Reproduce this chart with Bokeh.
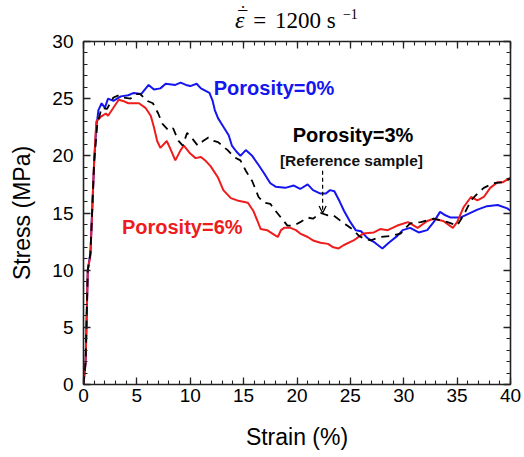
from bokeh.plotting import figure
from bokeh.layouts import column
from bokeh.models import (Label, Arrow, OpenHead, LinearAxis, SingleIntervalTicker,
                          Range1d, CustomLabelingPolicy)
from bokeh.embed import file_html
from bokeh.resources import INLINE

# ---------------- data ----------------
strain_p0 = [0, 0.2, 0.4, 0.65, 1.0, 1.2, 1.4, 1.7, 2.0, 2.3, 2.8, 3.5, 4.2, 4.7, 5.4,
             6.1, 6.6, 7.2, 7.7, 8.6, 9.1, 9.6, 10.0, 10.6, 11.0, 11.4, 11.8, 12.1, 12.3,
             12.6, 13.0, 13.6, 13.9, 14.3, 14.7, 15.2, 15.8, 16.4, 16.9, 17.5, 18.0, 18.9,
             19.7, 20.3, 21.0, 21.5, 22.2, 22.7, 23.1, 23.5, 24.0, 24.4, 25.0, 25.5, 26.0,
             26.6, 27.3, 28.0, 28.6, 29.4, 29.9, 30.6, 31.4, 32.2, 32.8, 33.4, 33.9, 34.4,
             35.3, 36.0, 36.9, 37.8, 38.8, 39.7, 40.0]
stress_p0 = [0, 2, 10, 11.5, 19.5, 22.5, 24, 24.6, 24.2, 25.0, 24.8, 25.2, 25.3, 25.5, 25.4,
             26.2, 25.8, 25.9, 26.3, 26.2, 26.4, 26.2, 26.1, 26.3, 25.9, 25.7, 25.5, 24.8, 24.0,
             23.3, 22.7, 21.8, 20.9, 20.4, 20.0, 20.5, 20.0, 19.2, 18.5, 17.6, 17.3, 17.2,
             17.4, 17.1, 17.5, 17.0, 16.7, 16.7, 17.0, 16.9, 16.0, 15.2, 14.2, 13.5, 13.4,
             12.8, 12.4, 11.9, 12.4, 13.0, 13.5, 13.7, 13.3, 13.5, 14.2, 15.1, 14.8, 14.6,
             14.6, 14.9, 15.3, 15.6, 15.7, 15.4, 15.2]

strain_p3 = [0, 0.2, 0.4, 0.65, 1.0, 1.3, 1.7, 2.2, 2.8, 3.3, 3.7, 4.4, 4.9, 5.3, 6.0,
             6.5, 7.0, 7.4, 8.0, 8.4, 8.9, 9.3, 9.7, 10.2, 10.7, 11.2, 11.7, 12.2, 12.6,
             13.5, 14.1, 14.7, 15.2, 15.8, 16.1, 16.4, 16.9, 17.5, 17.8, 18.5, 19.1, 19.7,
             20.3, 21.0, 21.5, 22.2, 22.9, 23.4, 24.1, 24.7, 25.3, 25.8, 26.2, 26.9, 27.8,
             28.8, 29.7, 30.6, 31.6, 32.8, 34.1, 35.0, 35.6, 36.3, 36.9, 37.5, 38.4, 39.3, 40.0]
stress_p3 = [0, 2, 10, 11.5, 19.5, 22.8, 24.2, 24.1, 25.1, 25.3, 25.1, 25.0, 25.4, 25.4, 24.8,
             24.6, 23.7, 22.8, 22.2, 22.4, 21.3, 20.9, 22.0, 21.5, 20.9, 21.3, 21.6, 21.3, 21.2,
             20.5, 19.9, 19.6, 18.7, 17.8, 17.1, 16.4, 15.9, 15.8, 15.4, 14.6, 13.9, 13.9,
             14.2, 14.6, 14.5, 15.0, 14.8, 14.8, 14.3, 13.9, 13.5, 13.0, 12.8, 12.6, 12.9,
             13.0, 13.2, 14.1, 14.2, 14.5, 14.2, 13.9, 14.8, 16.1, 16.7, 17.2, 17.6, 17.7, 18.0]

strain_p6 = [0, 0.2, 0.4, 0.65, 1.0, 1.2, 1.6, 2.1, 2.3, 2.8, 3.3, 3.7, 4.2, 5.2, 5.8,
             6.3, 6.6, 6.9, 7.2, 7.8, 8.1, 8.6, 9.1, 9.4, 10.0, 10.5, 11.0, 11.4, 11.9,
             12.6, 13.1, 13.8, 14.4, 15.4, 15.9, 16.3, 16.6, 17.2, 17.7, 18.2, 18.5, 18.8,
             19.4, 19.9, 20.3, 21.0, 21.5, 22.2, 22.9, 23.4, 23.9, 24.4, 25.3, 26.2, 27.2,
             27.8, 28.5, 29.4, 30.4, 31.3, 32.2, 32.8, 33.7, 34.6, 35.0, 35.6, 36.3, 36.9,
             37.5, 38.1, 38.8, 39.3, 40.0]
stress_p6 = [0, 2, 10, 11.3, 19.6, 23.0, 23.4, 23.7, 23.5, 24.2, 24.9, 24.8, 24.6, 24.6, 24.2,
             23.5, 22.5, 21.3, 20.7, 21.3, 20.7, 19.6, 20.5, 20.9, 20.2, 19.8, 19.9, 19.6, 19.1,
             18.1, 17.0, 16.3, 16.1, 15.9, 15.2, 14.3, 13.6, 13.5, 13.2, 12.9, 13.5, 13.7,
             13.7, 13.5, 13.2, 12.9, 12.6, 12.4, 12.3, 12.0, 11.9, 12.2, 12.6, 13.2, 13.3,
             13.6, 13.5, 13.9, 14.2, 13.7, 14.3, 14.5, 14.3, 13.7, 14.2, 15.5, 16.4, 16.1,
             16.4, 17.2, 17.7, 17.7, 18.1]

series_labels = ["Porosity=0%", "Porosity=3%", "Porosity=6%"]
ref_note = "[Reference sample]"
title_symbol = "\u03b5"          # epsilon, with a bar and a dot above
title_eq = "="
title_rate = "1200 s"
title_exp = "\u22121"
x_label = "Strain (%)"
y_label = "Stress (MPa)"

BLUE = "#1515f0"
RED = "#ee1c1c"
SANS = "Liberation Sans"
SERIF = "Liberation Serif"
TITLE_H = 40      # height of the title strip
OVERLAP = 10      # the plot canvas slides up under the strip by this much

# ---------------- title strip (same horizontal mapping as the plot) ----------------
t = figure(width=524, height=TITLE_H, x_range=Range1d(0, 40), y_range=Range1d(0, TITLE_H),
           output_backend="svg", toolbar_location=None, x_axis_type=None, y_axis_type=None,
           min_border_left=83, min_border_right=14, min_border_top=0, min_border_bottom=0)
t.outline_line_color = None
t.xgrid.visible = False
t.ygrid.visible = False
t.background_fill_color = "white"
t.border_fill_color = "white"

def tl(x, y, text, size, style="normal"):
    t.add_layout(Label(x=x, y=y, text=text, text_color="black", text_font=SERIF,
                       text_font_size=size, text_font_style=style))

tl(14.2, 8, title_symbol, "24px", "italic")
tl(14.5, 13, "\u00af", "18px")
tl(14.65, 17.5, "\u02d9", "18px")
tl(15.9, 8, title_eq, "23px")
tl(17.95, 8, title_rate, "23px")
tl(24.3, 22, title_exp, "14px")

# ---------------- main plot ----------------
p = figure(width=524, height=457 - TITLE_H + OVERLAP, x_range=Range1d(0, 40),
           y_range=Range1d(0, 30), output_backend="svg", toolbar_location=None,
           min_border_left=83, min_border_right=14, min_border_top=41 - TITLE_H + OVERLAP,
           min_border_bottom=73)
p.margin = (-OVERLAP, 0, 0, 0)
p.background_fill_color = "white"
p.border_fill_color = None
p.outline_line_color = None
p.xgrid.visible = False
p.ygrid.visible = False

hide_all = CustomLabelingPolicy(code="return new Set()")

def style_axis(ax, show_labels):
    ax.ticker = SingleIntervalTicker(interval=5, num_minor_ticks=5)
    ax.major_tick_in = 7
    ax.major_tick_out = 0
    ax.minor_tick_in = 4
    ax.minor_tick_out = 0
    ax.axis_line_color = "#222222"
    ax.axis_line_width = 1.6
    ax.major_tick_line_color = "#222222"
    ax.major_tick_line_width = 1.3
    ax.minor_tick_line_color = "#222222"
    ax.minor_tick_line_width = 1.1
    if show_labels:
        ax.major_label_text_font = SANS
        ax.major_label_text_font_size = "19px"
        ax.major_label_text_color = "black"
        ax.axis_label_text_font = SANS
        ax.axis_label_text_font_size = "23px"
        ax.axis_label_text_font_style = "normal"
        ax.axis_label_text_color = "black"
    else:
        ax.major_label_policy = hide_all
        ax.major_label_standoff = 0
        ax.major_label_text_font_size = "1px"

xa = p.xaxis[0]
ya = p.yaxis[0]
style_axis(xa, True)
style_axis(ya, True)
xa.axis_label = x_label
ya.axis_label = y_label
xa.major_label_standoff = 4
xa.axis_label_standoff = 19
ya.major_label_standoff = 10
ya.axis_label_standoff = 14

top_ax = LinearAxis()
right_ax = LinearAxis()
style_axis(top_ax, False)
style_axis(right_ax, False)
p.add_layout(top_ax, "above")
p.add_layout(right_ax, "right")

p.line(strain_p0, stress_p0, line_color=BLUE, line_width=2)
p.line(strain_p6, stress_p6, line_color=RED, line_width=2)
p.line(strain_p3, stress_p3, line_color="black", line_width=1.8, line_dash="8 6")

# annotations
p.add_layout(Label(x=12.2, y=25.9, text=series_labels[0], text_color=BLUE, text_font=SANS,
                   text_font_size="20px", text_font_style="bold", text_baseline="middle"))
p.add_layout(Label(x=19.6, y=21.8, text=series_labels[1], text_color="black", text_font=SANS,
                   text_font_size="20px", text_font_style="bold", text_baseline="middle"))
p.add_layout(Label(x=18.4, y=19.6, text=ref_note, text_color="#111111", text_font=SANS,
                   text_font_size="15.5px", text_font_style="bold", text_baseline="middle"))
p.add_layout(Label(x=3.6, y=13.8, text=series_labels[2], text_color=RED, text_font=SANS,
                   text_font_size="20px", text_font_style="bold", text_baseline="middle"))
p.add_layout(Arrow(x_start=22.4, y_start=18.7, x_end=22.4, y_end=15.0,
                   line_color="black", line_width=1.2, line_dash="4 3",
                   end=OpenHead(size=7, line_width=1.3, line_color="black")))

open("out.html", "w").write(file_html(column(t, p), INLINE))
